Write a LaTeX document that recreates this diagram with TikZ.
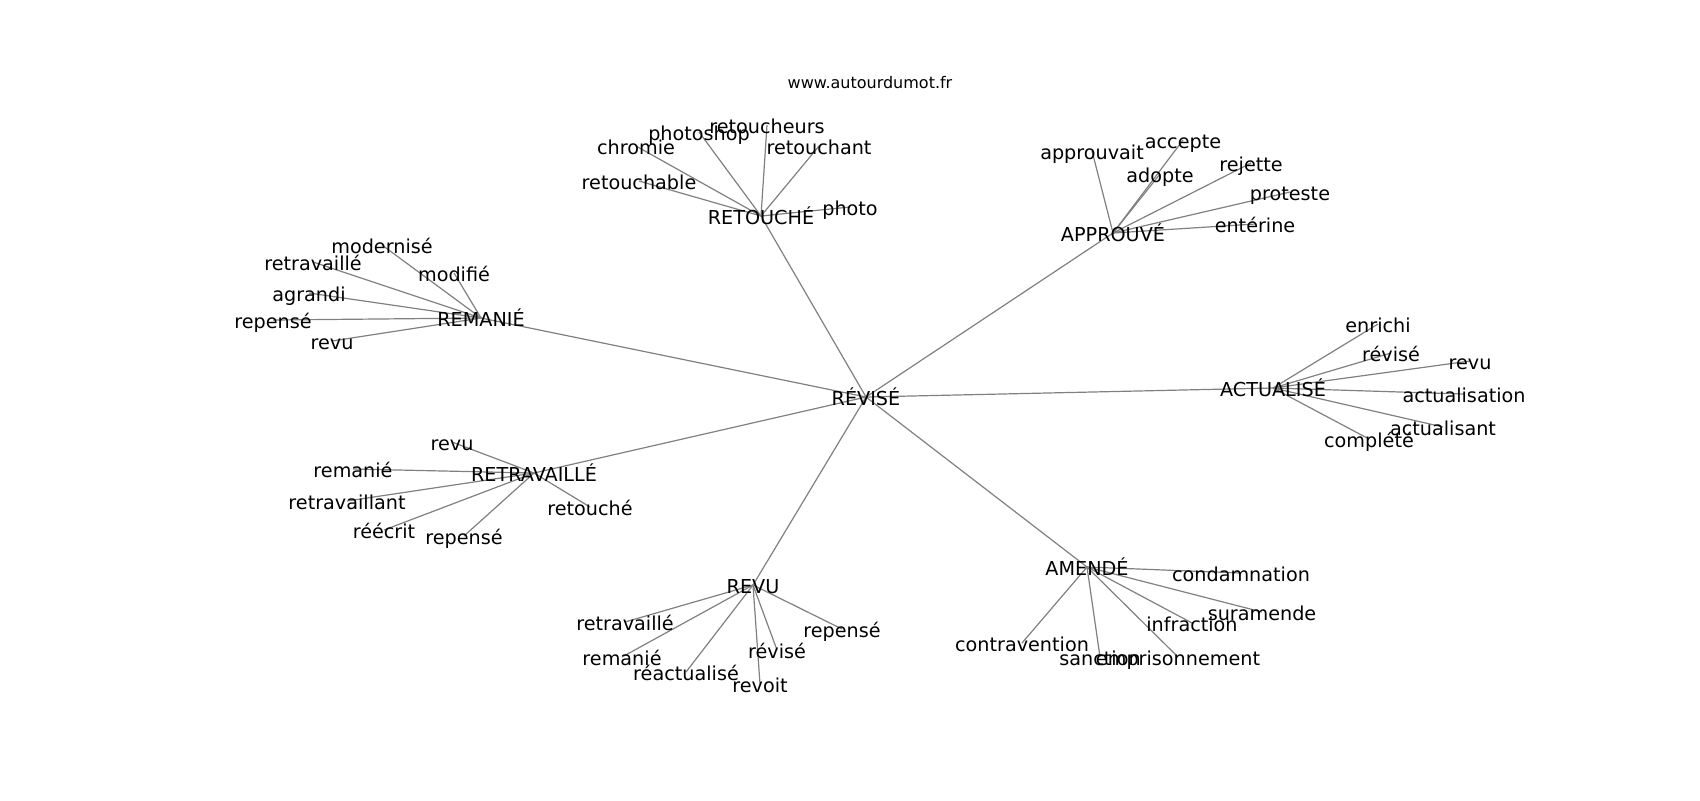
\documentclass[tikz,border=0pt]{standalone}
\usepackage{fontspec}
\setmainfont{DejaVu Sans}
\usetikzlibrary{backgrounds}
\begin{document}
\begin{tikzpicture}[x=0.5pt,y=-0.5pt,
  word/.style={inner sep=0pt,font=\fontsize{9.6}{11}\selectfont,text height=0.9em,text depth=0.1em},
  link/.style={draw=black!50,line width=0.6pt}]
\useasboundingbox (0,0) rectangle (1700,800);
\node[inner sep=0pt,font=\fontsize{8}{10}\selectfont] (site) at (870,83) {www.autourdumot.fr};
% centre et mots voisins
\node[word] (revise) at (866,397) {RÉVISÉ};
\node[word] (retouche) at (761,216) {RETOUCHÉ};
\node[word] (approuve) at (1113,233) {APPROUVÉ};
\node[word] (remanie) at (481,318) {REMANIÉ};
\node[word] (actualise) at (1273,388) {ACTUALISÉ};
\node[word] (retravaille) at (534,473) {RETRAVAILLÉ};
\node[word] (revu) at (753,585) {REVU};
\node[word] (amende) at (1087,567) {AMENDÉ};
% RETOUCHÉ
\node[word] (rt-retouchable) at (639,181) {retouchable};
\node[word] (rt-chromie) at (636,146) {chromie};
\node[word] (rt-photoshop) at (699,132) {photoshop};
\node[word] (rt-retoucheurs) at (767,125) {retoucheurs};
\node[word] (rt-retouchant) at (819,146) {retouchant};
\node[word] (rt-photo) at (850,207) {photo};
% APPROUVÉ
\node[word] (ap-approuvait) at (1092,151) {approuvait};
\node[word] (ap-accepte) at (1183,140) {accepte};
\node[word] (ap-adopte) at (1160,174) {adopte};
\node[word] (ap-rejette) at (1251,163) {rejette};
\node[word] (ap-proteste) at (1290,192) {proteste};
\node[word] (ap-enterine) at (1255,224) {entérine};
% REMANIÉ
\node[word] (rm-modernise) at (382,245) {modernisé};
\node[word] (rm-retravaille) at (313,262) {retravaillé};
\node[word] (rm-modifie) at (454,273) {modifié};
\node[word] (rm-agrandi) at (309,293) {agrandi};
\node[word] (rm-repense) at (273,320) {repensé};
\node[word] (rm-revu) at (332,341) {revu};
% ACTUALISÉ
\node[word] (ac-enrichi) at (1378,324) {enrichi};
\node[word] (ac-revise) at (1391,353) {révisé};
\node[word] (ac-revu) at (1470,361) {revu};
\node[word] (ac-actualisation) at (1464,394) {actualisation};
\node[word] (ac-actualisant) at (1443,427) {actualisant};
\node[word] (ac-complete) at (1369,439) {complété};
% RETRAVAILLÉ
\node[word] (rv-revu) at (452,442) {revu};
\node[word] (rv-remanie) at (353,469) {remanié};
\node[word] (rv-retravaillant) at (347,501) {retravaillant};
\node[word] (rv-reecrit) at (384,530) {réécrit};
\node[word] (rv-repense) at (464,536) {repensé};
\node[word] (rv-retouche) at (590,507) {retouché};
% REVU
\node[word] (re-retravaille) at (625,622) {retravaillé};
\node[word] (re-remanie) at (622,657) {remanié};
\node[word] (re-reactualise) at (686,672) {réactualisé};
\node[word] (re-revoit) at (760,684) {revoit};
\node[word] (re-revise) at (777,650) {révisé};
\node[word] (re-repense) at (842,629) {repensé};
% AMENDÉ
\node[word] (am-condamnation) at (1241,573) {condamnation};
\node[word] (am-suramende) at (1262,612) {suramende};
\node[word] (am-infraction) at (1192,623) {infraction};
\node[word] (am-contravention) at (1022,643) {contravention};
\node[word] (am-sanction) at (1100,657) {sanction};
\node[word] (am-emprisonnement) at (1178,657) {emprisonnement};
\begin{scope}[on background layer]
\draw[link] (revise.center) -- (retouche.center);
\draw[link] (revise.center) -- (approuve.center);
\draw[link] (revise.center) -- (remanie.center);
\draw[link] (revise.center) -- (actualise.center);
\draw[link] (revise.center) -- (retravaille.center);
\draw[link] (revise.center) -- (revu.center);
\draw[link] (revise.center) -- (amende.center);
\draw[link] (retouche.center) -- (rt-retouchable.center);
\draw[link] (retouche.center) -- (rt-chromie.center);
\draw[link] (retouche.center) -- (rt-photoshop.center);
\draw[link] (retouche.center) -- (rt-retoucheurs.center);
\draw[link] (retouche.center) -- (rt-retouchant.center);
\draw[link] (retouche.center) -- (rt-photo.center);
\draw[link] (approuve.center) -- (ap-approuvait.center);
\draw[link] (approuve.center) -- (ap-accepte.center);
\draw[link] (approuve.center) -- (ap-adopte.center);
\draw[link] (approuve.center) -- (ap-rejette.center);
\draw[link] (approuve.center) -- (ap-proteste.center);
\draw[link] (approuve.center) -- (ap-enterine.center);
\draw[link] (remanie.center) -- (rm-modernise.center);
\draw[link] (remanie.center) -- (rm-retravaille.center);
\draw[link] (remanie.center) -- (rm-modifie.center);
\draw[link] (remanie.center) -- (rm-agrandi.center);
\draw[link] (remanie.center) -- (rm-repense.center);
\draw[link] (remanie.center) -- (rm-revu.center);
\draw[link] (actualise.center) -- (ac-enrichi.center);
\draw[link] (actualise.center) -- (ac-revise.center);
\draw[link] (actualise.center) -- (ac-revu.center);
\draw[link] (actualise.center) -- (ac-actualisation.center);
\draw[link] (actualise.center) -- (ac-actualisant.center);
\draw[link] (actualise.center) -- (ac-complete.center);
\draw[link] (retravaille.center) -- (rv-revu.center);
\draw[link] (retravaille.center) -- (rv-remanie.center);
\draw[link] (retravaille.center) -- (rv-retravaillant.center);
\draw[link] (retravaille.center) -- (rv-reecrit.center);
\draw[link] (retravaille.center) -- (rv-repense.center);
\draw[link] (retravaille.center) -- (rv-retouche.center);
\draw[link] (revu.center) -- (re-retravaille.center);
\draw[link] (revu.center) -- (re-remanie.center);
\draw[link] (revu.center) -- (re-reactualise.center);
\draw[link] (revu.center) -- (re-revoit.center);
\draw[link] (revu.center) -- (re-revise.center);
\draw[link] (revu.center) -- (re-repense.center);
\draw[link] (amende.center) -- (am-condamnation.center);
\draw[link] (amende.center) -- (am-suramende.center);
\draw[link] (amende.center) -- (am-infraction.center);
\draw[link] (amende.center) -- (am-contravention.center);
\draw[link] (amende.center) -- (am-sanction.center);
\draw[link] (amende.center) -- (am-emprisonnement.center);
\end{scope}
\end{tikzpicture}
\end{document}
